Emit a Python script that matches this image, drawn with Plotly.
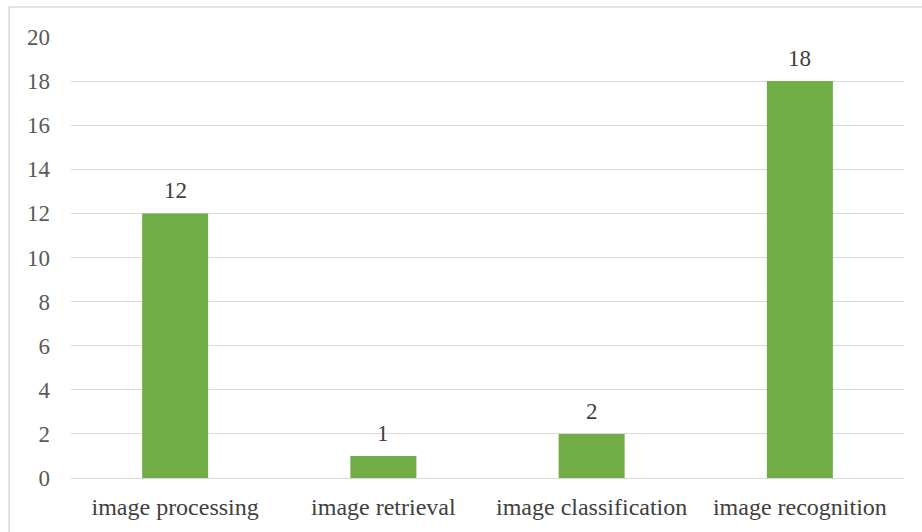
import plotly.graph_objects as go

categories = ["image processing", "image retrieval", "image classification", "image recognition"]
counts = [12, 1, 2, 18]
y_ticks = list(range(0, 21, 2))

SERIF = "Liberation Serif"

fig = go.Figure(
    go.Bar(
        x=categories,
        y=counts,
        marker=dict(color="#70AD47", line=dict(width=0)),
        width=0.317,
        hoverinfo="x+y",
    )
)

# value labels above each bar
for cat, val in zip(categories, counts):
    fig.add_annotation(
        x=cat, y=val, text=str(val), showarrow=False,
        yanchor="bottom", yshift=8,
        font=dict(family=SERIF, size=23, color="#404040"),
    )

fig.update_layout(
    width=922,
    height=532,
    margin=dict(l=71, r=18, t=37, b=54),
    paper_bgcolor="white",
    plot_bgcolor="white",
    showlegend=False,
    font=dict(family=SERIF, size=23, color="#595959"),
    shapes=[
        dict(
            type="rect", xref="paper", yref="paper",
            x0=-0.0744, x1=1.05, y0=-0.3, y1=1.068,
            line=dict(color="#d9d9d9", width=1.5), fillcolor="rgba(0,0,0,0)",
            layer="below",
        )
    ],
)
fig.update_xaxes(
    showgrid=False, showline=False, zeroline=False,
    tickfont=dict(family=SERIF, size=24, color="#404040"),
    ticklabelstandoff=12,
)
fig.update_yaxes(
    range=[0, 20], tickvals=y_ticks,
    showgrid=True, gridcolor="#d9d9d9", gridwidth=1.3,
    zeroline=True, zerolinecolor="#d9d9d9", zerolinewidth=1.3,
    showline=False,
    tickfont=dict(family=SERIF, size=23, color="#595959"),
    ticklabelstandoff=20,
)

fig.write_html("out.html")
